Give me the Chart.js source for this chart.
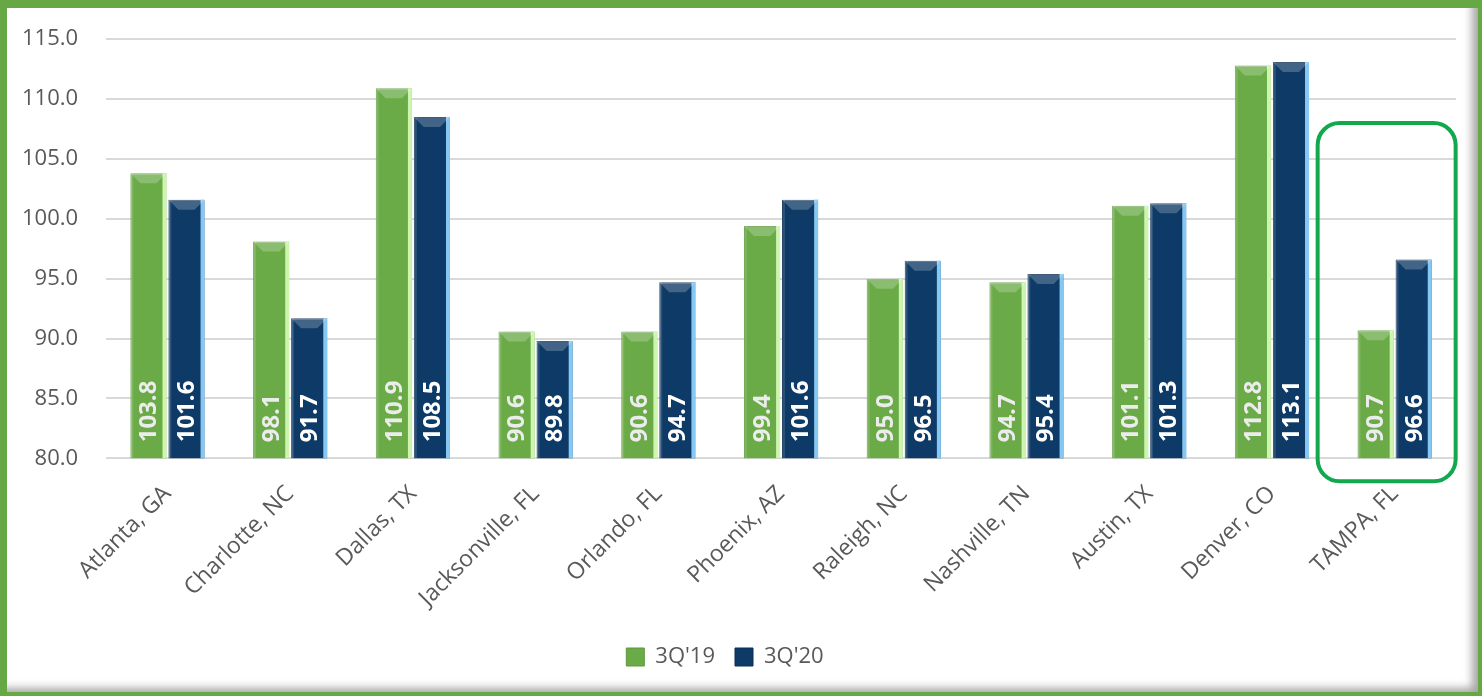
<!DOCTYPE html>
<html>
<head>
<meta charset="utf-8">
<script src="https://cdn.jsdelivr.net/npm/chart.js@4"></script>
<style>
  html, body { margin: 0; padding: 0; background: #fff; }
  #frame {
    position: absolute; left: 0; top: 0;
    width: 1482px; height: 696px; box-sizing: border-box;
    border-style: solid; border-color: #66a843;
    border-width: 8px 4px 4px 7px;
    box-shadow: inset -10px -8px 8px -4px rgba(0,0,0,0.35);
    background: #fff;
    overflow: hidden;
  }
  #wrap { position: absolute; left: 0; top: -10px; width: 1462px; height: 686px; }
</style>
</head>
<body>
<div id="frame"><div id="wrap"><canvas id="cityChart"></canvas></div></div>
<script>
const cities = ['Atlanta, GA', 'Charlotte, NC', 'Dallas, TX', 'Jacksonville, FL', 'Orlando, FL',
  'Phoenix, AZ', 'Raleigh, NC', 'Nashville, TN', 'Austin, TX', 'Denver, CO', 'TAMPA, FL'];
const q319 = [103.8, 98.1, 110.9, 90.6, 90.6, 99.4, 95.0, 94.7, 101.1, 112.8, 90.7];
const q320 = [101.6, 91.7, 108.5, 89.8, 94.7, 101.6, 96.5, 95.4, 101.3, 113.1, 96.6];
const yTicks = [80, 85, 90, 95, 100, 105, 110, 115];

const FONT = '"Open Sans", sans-serif';
const highlights = ['#cdf5b0', '#86c8f2'];
const labelColors = ['#ececec', '#ffffff'];

// bevel look + rotated value labels inside the bars
const barDecor = {
  id: 'barDecor',
  afterDatasetsDraw(chart) {
    const ctx = chart.ctx;
    const area = chart.chartArea;
    chart.data.datasets.forEach((ds, di) => {
      const meta = chart.getDatasetMeta(di);
      meta.data.forEach((bar, i) => {
        const left = bar.x - bar.width / 2, right = bar.x + bar.width / 2;
        const top = bar.y, bottom = Math.min(bar.base, area.bottom);
        ctx.save();
        ctx.fillStyle = highlights[di];
        ctx.fillRect(right - 4, top, 4, bottom - top);
        ctx.fillStyle = 'rgba(255,255,255,0.12)';
        ctx.fillRect(left, top, 3, bottom - top);
        ctx.beginPath();
        ctx.moveTo(left, top);
        ctx.lineTo(right, top);
        ctx.lineTo(right - 10, top + 10);
        ctx.lineTo(left + 10, top + 10);
        ctx.closePath();
        ctx.fillStyle = 'rgba(255,255,255,0.22)';
        ctx.fill();
        // value label
        ctx.translate(bar.x, bottom - 16);
        ctx.rotate(-Math.PI / 2);
        ctx.font = 'bold 24px ' + FONT;
        ctx.fillStyle = labelColors[di];
        ctx.textAlign = 'left';
        ctx.textBaseline = 'middle';
        ctx.fillText(ds.data[i].toFixed(1), 0, 1);
        ctx.restore();
      });
    });
    // highlight box around the last city
    const xs = chart.scales.x, ys = chart.scales.y;
    const cx = xs.getPixelForValue(cities.length - 1);
    const x0 = cx - 77, x1 = cx + 61;
    const y0 = ys.getPixelForValue(108), y1 = area.bottom + 23;
    ctx.save();
    ctx.strokeStyle = '#12a84e';
    ctx.lineWidth = 4;
    ctx.beginPath();
    ctx.roundRect(x0, y0, x1 - x0, y1 - y0, 22);
    ctx.stroke();
    ctx.restore();
  }
};

new Chart(document.getElementById('cityChart'), {
  type: 'bar',
  data: {
    labels: cities,
    datasets: [{
      label: "3Q'19",
      data: q319,
      backgroundColor: '#6aab47',
      borderColor: '#5c9a3c',
      borderWidth: 1
    }, {
      label: "3Q'20",
      data: q320,
      backgroundColor: '#0d3a66',
      borderColor: '#0a2f55',
      borderWidth: 1
    }]
  },
  options: {
    responsive: true,
    maintainAspectRatio: false,
    animation: false,
    categoryPercentage: 0.62,
    barPercentage: 0.95,
    layout: { padding: { left: -13, right: 13, top: -5, bottom: 6 } },
    scales: {
      y: {
        min: 80, max: 115,
        afterBuildTicks: axis => { axis.ticks = yTicks.map(v => ({ value: v })); },
        ticks: {
          color: '#595959',
          font: { family: FONT, size: 22 },
          padding: 28,
          callback: v => Number(v).toFixed(1)
        },
        grid: { color: '#d9d9d9', lineWidth: 2, drawTicks: false },
        border: { display: false }
      },
      x: {
        ticks: {
          color: '#595959',
          font: { family: FONT, size: 23 },
          maxRotation: 45, minRotation: 45,
          padding: 14
        },
        grid: { display: false },
        border: { display: false }
      }
    },
    plugins: {
      legend: {
        position: 'bottom',
        labels: {
          color: '#595959',
          font: { family: FONT, size: 22 },
          boxWidth: 18, boxHeight: 18,
          padding: 20
        }
      },
      tooltip: { enabled: false }
    }
  },
  plugins: [barDecor]
});
</script>
</body>
</html>
